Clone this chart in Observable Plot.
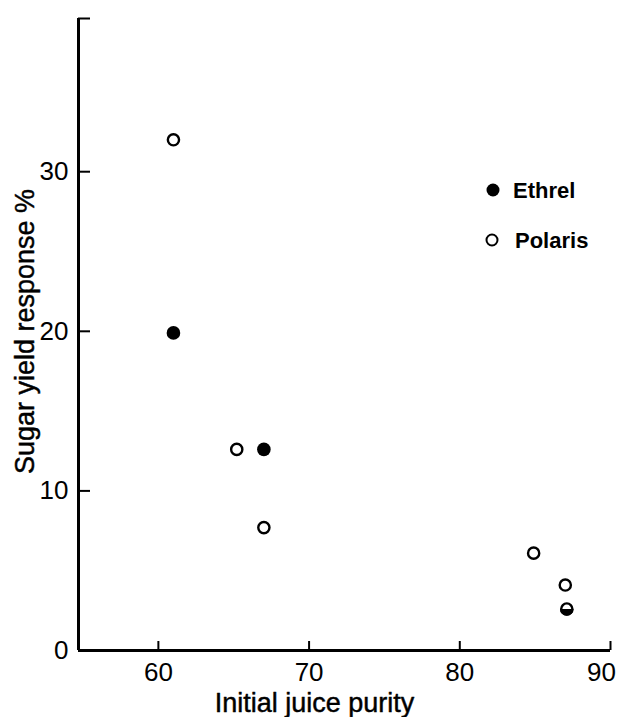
<!DOCTYPE html>
<html><head><meta charset="utf-8">
<script src="https://cdn.jsdelivr.net/npm/d3@7"></script>
<script src="https://cdn.jsdelivr.net/npm/@observablehq/plot@0.6"></script>
<style>
html,body{margin:0;padding:0;background:#fff;}
#wrap{position:relative;width:619px;height:717px;}
#legend{position:absolute;left:0;top:0;pointer-events:none;}
</style></head><body>
<div id="wrap"></div>
<script>
// Data
const ethrelX = [61, 67];
const ethrelY = [19.9, 12.6];
const polarisX = [61, 65.2, 67, 84.9, 87.0];
const polarisY = [32.0, 12.6, 7.7, 6.1, 4.1];
const bothX = [87.1];      // Ethrel and Polaris coinciding (half-filled symbol)
const bothY = [2.6];
const xTicks = [60, 70, 80, 90];
const yTicks = [10, 20, 30];
const xDomain = [54.7, 90];
const yDomain = [0, 39.6];
const seriesNames = ["Ethrel", "Polaris"];
const xLabel = "Initial juice purity";
const yLabel = "Sugar yield response %";

const ethrel = ethrelX.map((x, i) => ({x, y: ethrelY[i]}));
const polaris = polarisX.map((x, i) => ({x, y: polarisY[i]}));
const both = bothX.map((x, i) => ({x, y: bothY[i]}));

const halfBottom = {
  draw(ctx, size) {
    const r = Math.sqrt(size / Math.PI);
    ctx.moveTo(r, 0);
    ctx.arc(0, 0, r, 0, Math.PI);
    ctx.closePath();
  }
};

const font = '"Liberation Sans", Arial, Helvetica, sans-serif';
const heavy = {stroke: "black", strokeWidth: 0.45};
const innerTicks = xTicks.slice(0, -1);
const lastTick = xTicks.slice(-1);

const chart = Plot.plot({
  width: 619,
  height: 717,
  marginLeft: 78,
  marginRight: 9,
  marginTop: 18,
  marginBottom: 67,
  style: {fontFamily: font, fontSize: "26px", color: "black", background: "white", overflow: "visible"},
  x: {domain: xDomain},
  y: {domain: yDomain},
  marks: [
    // axis lines
    Plot.ruleX([xDomain[0]], {strokeWidth: 3}),
    Plot.ruleY([yDomain[0]], {strokeWidth: 3}),
    // inward ticks
    Plot.axisX(xTicks, {anchor: "bottom", tickSize: -9, strokeWidth: 2, tickFormat: () => "", label: null}),
    Plot.axisY([...yTicks, yDomain[1]], {anchor: "left", tickSize: -12, strokeWidth: 2, tickFormat: () => "", label: null}),
    // tick labels
    Plot.axisX(innerTicks, {anchor: "bottom", tickSize: 0, tickPadding: 12, fontSize: 26, label: null, ...heavy}),
    Plot.axisX(lastTick, {anchor: "bottom", tickSize: 0, tickPadding: 12, fontSize: 26, label: null, dx: -9, ...heavy}),
    Plot.axisY([0, ...yTicks], {anchor: "left", tickSize: 0, tickPadding: 10, fontSize: 26, label: null, ...heavy}),
    // axis titles
    Plot.text([xLabel], {frameAnchor: "bottom", dx: -30, dy: 61, lineAnchor: "bottom", textAnchor: "middle", fontSize: 27, fill: "black", ...heavy}),
    Plot.text([yLabel], {frameAnchor: "left", dx: -45, dy: -3, rotate: -90, lineAnchor: "bottom", textAnchor: "middle", fontSize: 27, fill: "black", ...heavy}),
    // data
    Plot.dot(polaris, {x: "x", y: "y", r: 5.6, stroke: "black", strokeWidth: 2.4, fill: "white"}),
    Plot.dot(ethrel, {x: "x", y: "y", r: 6.8, fill: "black", stroke: "none"}),
    Plot.dot(both, {x: "x", y: "y", r: 5.6, stroke: "black", strokeWidth: 2.4, fill: "white"}),
    Plot.dot(both, {x: "x", y: "y", r: 6.8, symbol: halfBottom, fill: "black", stroke: "none"})
  ]
});

const wrap = document.getElementById("wrap");
wrap.appendChild(chart);

// Legend overlay
const leg = d3.select(wrap).append("svg")
  .attr("id", "legend").attr("width", 619).attr("height", 717);
const items = [
  {name: seriesNames[0], filled: true, cy: 190, cx: 493, tx: 513},
  {name: seriesNames[1], filled: false, cy: 240, cx: 492, tx: 515}
];
items.forEach(it => {
  const g = leg.append("g");
  if (it.filled) {
    g.append("circle").attr("cx", it.cx).attr("cy", it.cy).attr("r", 6.5).attr("fill", "black");
  } else {
    g.append("circle").attr("cx", it.cx).attr("cy", it.cy).attr("r", 5.5)
      .attr("fill", "white").attr("stroke", "black").attr("stroke-width", 2);
  }
  g.append("text").attr("x", it.tx).attr("y", it.cy + 8)
    .attr("font-family", font).attr("font-size", 22).attr("font-weight", "bold")
    .attr("fill", "black").text(it.name);
});
</script>
</body></html>
